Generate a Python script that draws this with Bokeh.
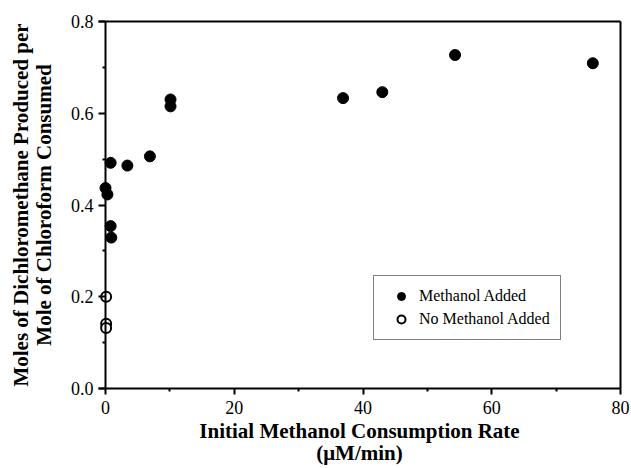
from bokeh.plotting import figure
from bokeh.models import Range1d, FixedTicker, LinearAxis, Legend, LegendItem
from bokeh.embed import file_html
from bokeh.resources import INLINE

# ---- data ----
x_methanol = [0.0, 0.3, 0.8, 0.8, 0.9, 3.4, 6.9, 10.1, 10.1, 36.9, 43.0, 54.3, 75.7]
y_methanol = [0.437, 0.423, 0.492, 0.354, 0.329, 0.486, 0.506, 0.630, 0.615, 0.633, 0.646, 0.727, 0.709]
x_no_methanol = [0.1, 0.1, 0.1]
y_no_methanol = [0.200, 0.141, 0.132]

x_ticks = [0, 20, 40, 60, 80]
x_minor = [10, 30, 50, 70]
y_ticks = [0.0, 0.2, 0.4, 0.6, 0.8]
y_minor = [0.1, 0.3, 0.5, 0.7]
y_tick_labels = ["0.0", "0.2", "0.4", "0.6", "0.8"]

x_title = "Initial Methanol Consumption Rate\n(\u03bcM/min)"
y_title = "Moles of Dichloromethane Produced per\nMole of Chloroform Consumed"
legend_labels = ["Methanol Added", "No Methanol Added"]

SERIF = "Liberation Serif"

x_start = -7 / 6.4375  # small pad so markers at x=0 are not clipped

p = figure(width=631, height=468, output_backend="svg", toolbar_location=None,
           x_range=Range1d(x_start, 80), y_range=Range1d(0, 0.8),
           min_border_left=98, min_border_right=11, min_border_top=21,
           min_border_bottom=78)
p.outline_line_color = None
p.xgrid.visible = False
p.ygrid.visible = False
p.background_fill_color = "white"

# bottom axis
xa = p.xaxis[0]
xa.ticker = FixedTicker(ticks=x_ticks, minor_ticks=x_minor)
xa.axis_line_width = 2
xa.major_tick_line_width = 2
xa.minor_tick_line_width = 2
xa.major_tick_in = 0
xa.major_tick_out = 6
xa.minor_tick_in = 0
xa.minor_tick_out = 3
xa.major_label_standoff = 6
xa.major_label_text_font = SERIF
xa.major_label_text_font_size = "18px"
xa.major_label_text_color = "black"
xa.axis_label = x_title
xa.axis_label_text_font = SERIF
xa.axis_label_text_font_style = "bold"
xa.axis_label_text_font_size = "21px"
xa.axis_label_text_line_height = 0.95
xa.axis_label_standoff = 2
xa.axis_label_text_color = "black"

# left axis line + minor ticks, pinned at x = 0 (no major ticks -> no labels)
ya = p.yaxis[0]
ya.fixed_location = 0
ya.ticker = FixedTicker(ticks=[], minor_ticks=y_minor)
ya.axis_line_width = 2
ya.minor_tick_line_width = 2
ya.minor_tick_in = 0
ya.minor_tick_out = 3
ya.major_tick_in = 0
ya.major_tick_out = 0
ya.major_label_standoff = 0

# left axis at the frame edge: major ticks (pointing in, up to x = 0), labels, title
yl = LinearAxis(ticker=FixedTicker(ticks=y_ticks))
yl.major_label_overrides = {t: s for t, s in zip(y_ticks, y_tick_labels)}
yl.axis_line_color = None
yl.major_tick_line_color = "black"
yl.major_tick_line_width = 2
yl.minor_tick_line_color = None
yl.major_tick_in = 7
yl.major_tick_out = 0
yl.minor_tick_in = 0
yl.minor_tick_out = 0
yl.major_label_standoff = 5
yl.major_label_text_font = SERIF
yl.major_label_text_font_size = "18px"
yl.major_label_text_color = "black"
yl.axis_label = y_title
yl.axis_label_text_font = SERIF
yl.axis_label_text_font_style = "bold"
yl.axis_label_text_font_size = "21px"
yl.axis_label_text_line_height = 0.95
yl.axis_label_standoff = 12
yl.axis_label_text_color = "black"
p.left = [yl, ya]

# top and right frame lines
for side in ("above", "right"):
    ax = LinearAxis(ticker=FixedTicker(ticks=[]), axis_line_width=2,
                    major_tick_line_color=None, minor_tick_line_color=None,
                    major_tick_in=0, major_tick_out=0,
                    major_label_standoff=0, axis_label_standoff=0)
    p.add_layout(ax, side)

r1 = p.scatter(x_methanol, y_methanol, size=11, marker="circle",
               fill_color="black", line_color="black")
r2 = p.scatter(x_no_methanol, y_no_methanol, size=10, marker="circle",
               fill_color="white", line_color="black", line_width=2)

legend = Legend(items=[LegendItem(label=legend_labels[0], renderers=[r1]),
                       LegendItem(label=legend_labels[1], renderers=[r2])],
                location=(275, 48), margin=0, padding=10,
                glyph_width=34, glyph_height=20, label_height=20,
                label_standoff=1, spacing=3,
                label_text_font=SERIF, label_text_font_size="16px",
                label_text_color="black",
                border_line_color="black", border_line_width=1.5,
                background_fill_color="white", background_fill_alpha=1)
p.add_layout(legend, "center")

open("out.html", "w").write(file_html(p, INLINE))
